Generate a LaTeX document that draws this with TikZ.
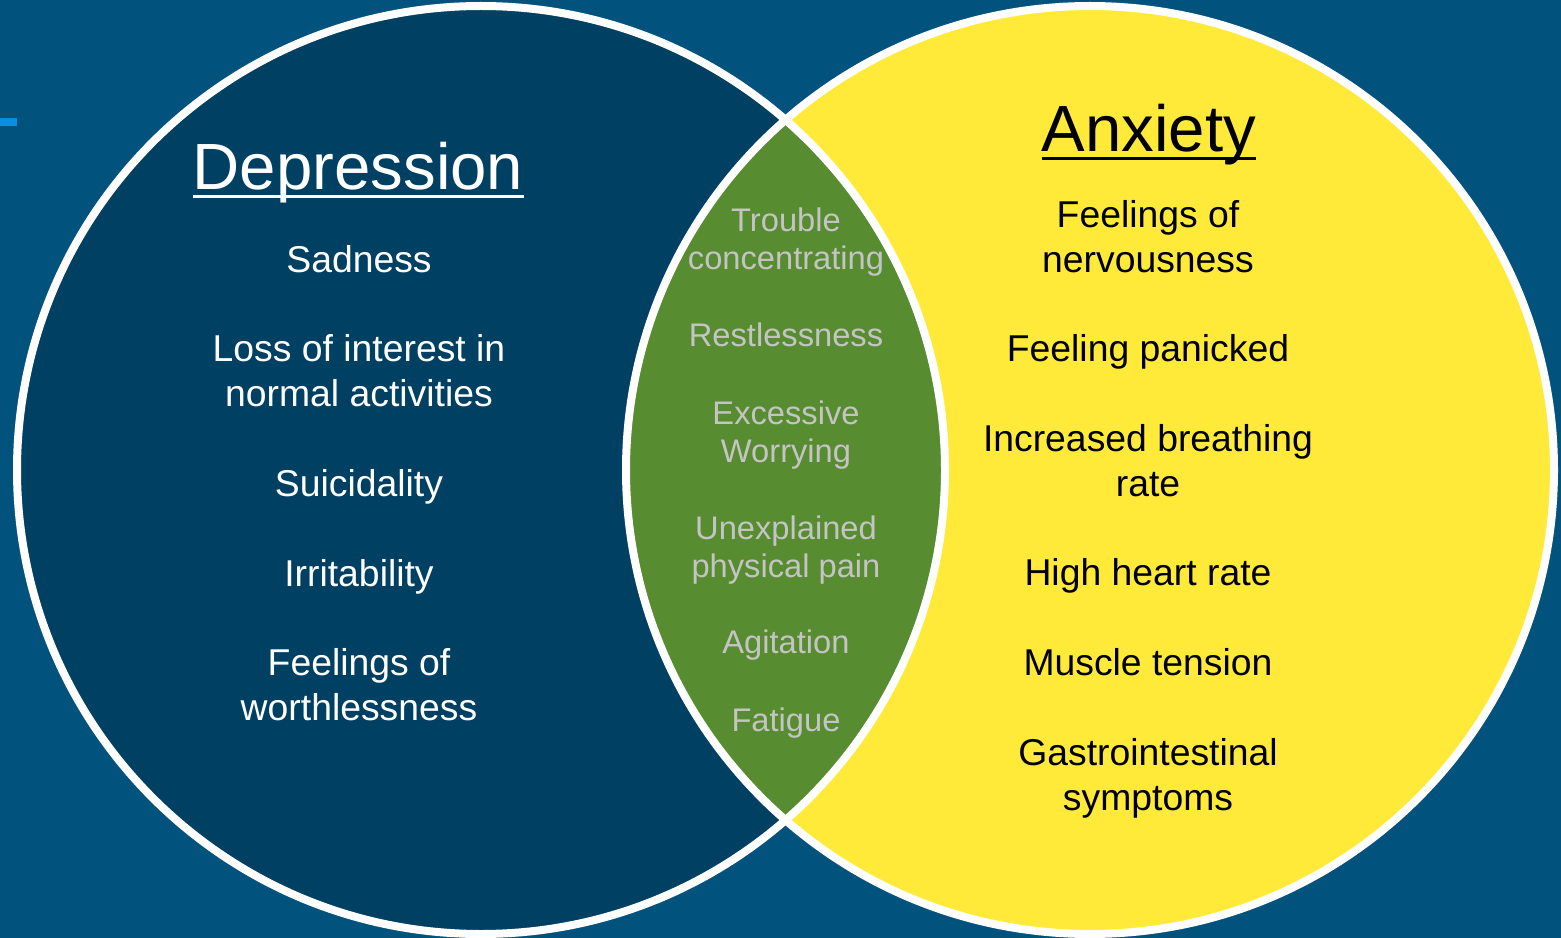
\documentclass[tikz,border=0pt]{standalone}
\usepackage{fontspec}
\setmainfont{Liberation Sans}
\usepackage{tikz}
\definecolor{bgblue}{RGB}{2,82,126}
\definecolor{deepnavy}{RGB}{0,64,98}
\definecolor{sunyellow}{RGB}{255,234,58}
\definecolor{lensgreen}{RGB}{88,140,48}
\definecolor{lensgray}{RGB}{196,196,196}
\definecolor{tickblue}{RGB}{12,142,220}

\begin{document}
\begin{tikzpicture}[x=0.75pt, y=-0.75pt,
  ring/.style={draw=white, line width=6pt},
  title/.style={font=\fontsize{49}{54}\selectfont, inner sep=0pt, anchor=base},
  item/.style={font=\fontsize{28}{33.75}\selectfont, align=center, inner sep=0pt},
  shared/.style={font=\fontsize{24.5}{29}\selectfont, align=center,
    inner sep=0pt, text=lensgray},
  uline/.style={line width=1.9pt},
]
  % === BACKGROUND ===
  \fill[bgblue] (0,0) rectangle (1561,938);
  \useasboundingbox (0,0) rectangle (1561,938);
  \fill[tickblue] (0,118) rectangle (17,126);

  % === CIRCLES ===
  \fill[deepnavy] (481,470) circle[radius=348pt];
  \fill[sunyellow] (1090,470) circle[radius=348pt];
  \begin{scope}
    \clip (481,470) circle[radius=348pt];
    \fill[lensgreen] (1090,470) circle[radius=348pt];
  \end{scope}
  \draw[ring] (481,470) circle[radius=348pt];
  \draw[ring] (1090,470) circle[radius=348pt];

  % === DEPRESSION (left) ===
  \node[title, text=white] (dep) at (358,190) {Depression};
  \draw[uline, white] ([yshift=-5pt]dep.base west) -- ([yshift=-5pt]dep.base east);

  \foreach \i/\y/\t in {1/259/Sadness, 2/371/{Loss of interest in\\normal activities},
      3/487/Suicidality, 4/577/Irritability, 5/685/{Feelings of\\worthlessness}} {
    \node[item, text=white] (dl\i) at (359,\y) {\t};
  }

  % === SHARED (middle) ===
  \foreach \i/\y/\t in {1/242/{Trouble\\concentrating}, 2/335/Restlessness,
      3/435/{Excessive\\Worrying}, 4/550/{Unexplained\\physical pain},
      5/645/Agitation, 6/723/Fatigue} {
    \node[shared] (sh\i) at (786,\y) {\t};
  }

  % === ANXIETY (right) ===
  \node[title, text=black] (anx) at (1149,152) {Anxiety};
  \draw[uline, black] ([yshift=-5pt]anx.base west) -- ([yshift=-5pt]anx.base east);

  \foreach \i/\y/\t in {1/237/{Feelings of\\nervousness}, 2/352/Feeling panicked,
      3/461/{Increased breathing\\rate}, 4/576/High heart rate,
      5/662/Muscle tension, 6/778/{Gastrointestinal\\symptoms}} {
    \node[item, text=black] (ax\i) at (1148,\y) {\t};
  }
\end{tikzpicture}
\end{document}
